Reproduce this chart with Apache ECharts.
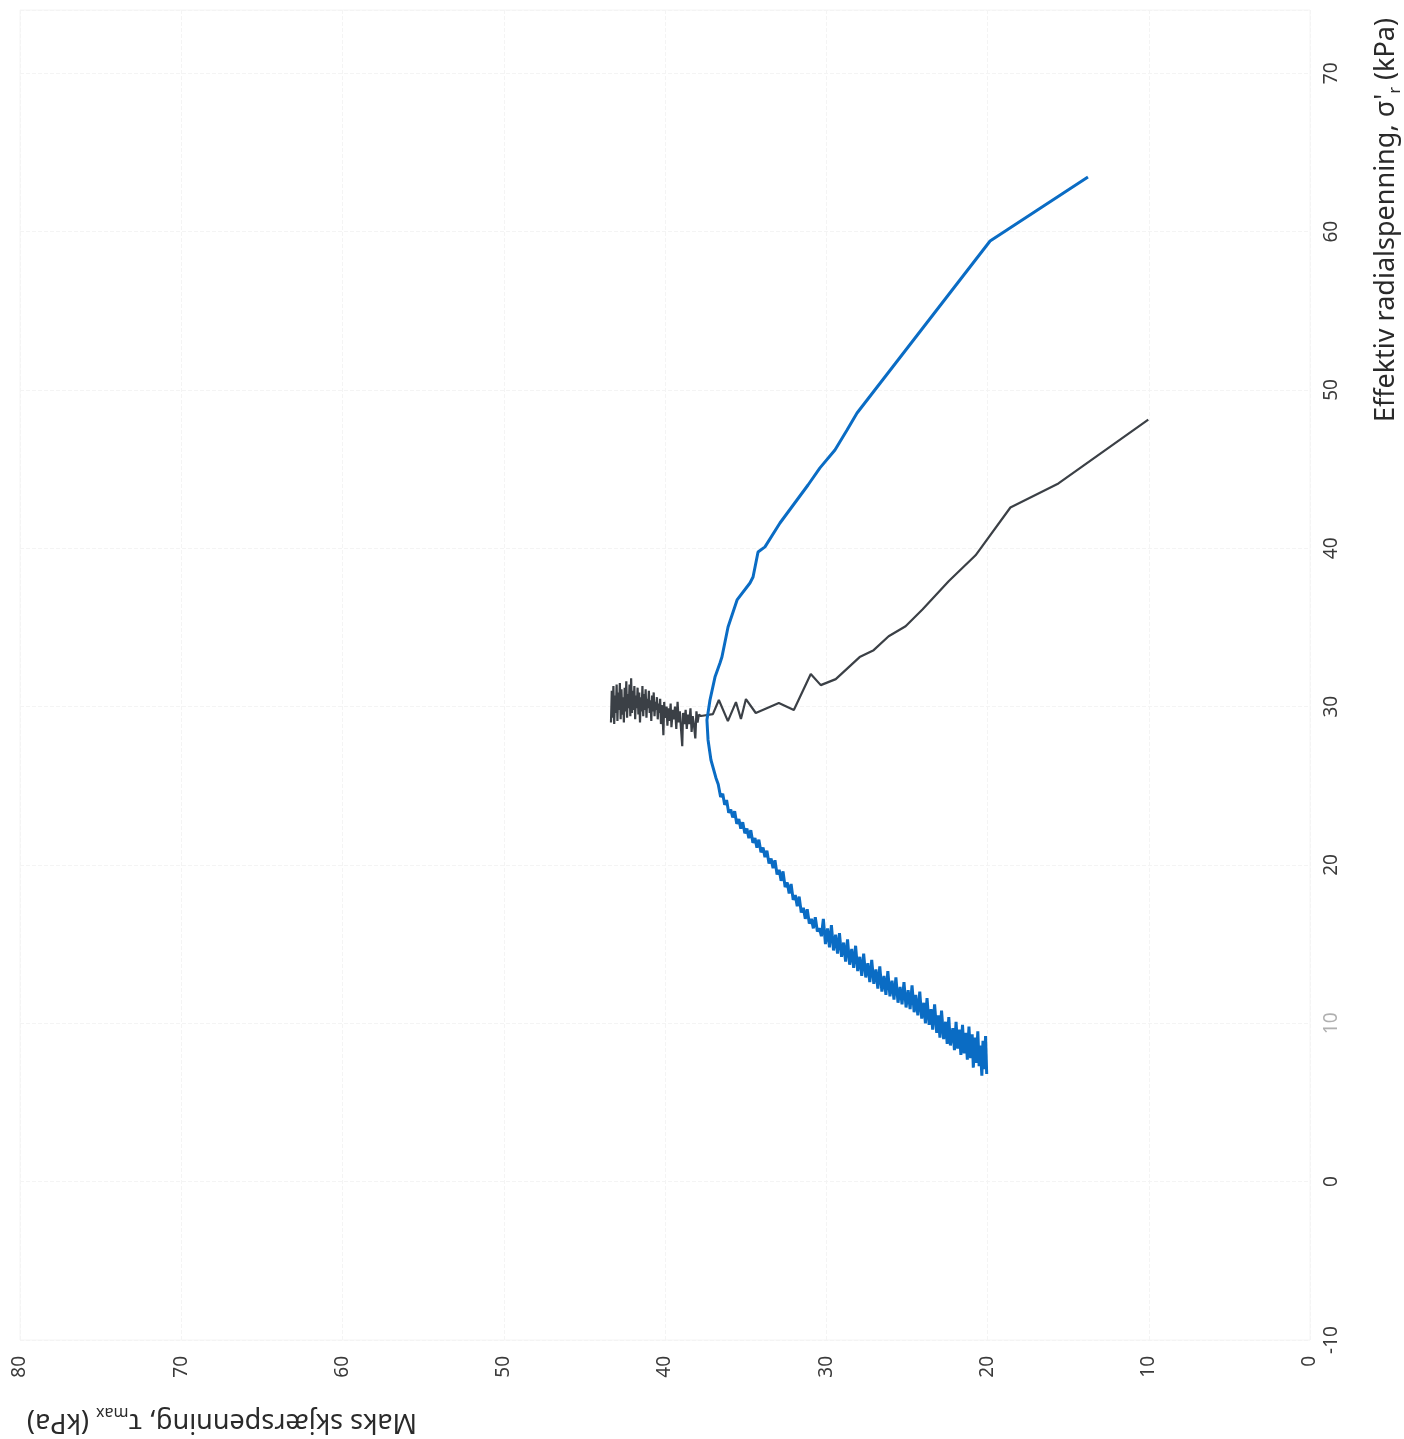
<!DOCTYPE html>
<html>
<head>
<meta charset="utf-8">
<script src="https://cdn.jsdelivr.net/npm/echarts@6/dist/echarts.min.js"></script>
<style>
  html, body { margin: 0; padding: 0; background: #fff; }
  #chart { width: 1404px; height: 1439px; }
</style>
</head>
<body>
<div id="chart"></div>
<script>
// tick values of the two axes
const tauTicks = [0, 10, 20, 30, 40, 50, 60, 70, 80]
const sigmaTicks = [-10, 0, 10, 20, 30, 40, 50, 60, 70]

// blue test: noisy start, then the smooth upper branch
const blueTau = [
  20.05, 20.12, 20.2, 20.28, 20.35, 20.45, 20.52, 20.6, 20.7, 20.78,
  20.88, 20.95, 21.05, 21.15, 21.25, 21.35, 21.45, 21.55, 21.65, 21.75,
  21.85, 21.95, 22.05, 22.15, 22.3, 22.4, 22.5, 22.6, 22.72, 22.85,
  22.95, 23.05, 23.15, 23.28, 23.4, 23.5, 23.62, 23.75, 23.85, 23.95,
  24.08, 24.2, 24.32, 24.45, 24.55, 24.68, 24.8, 24.92, 25.05, 25.18,
  25.3, 25.42, 25.55, 25.68, 25.8, 25.92, 26.05, 26.18, 26.3, 26.42,
  26.55, 26.68, 26.8, 26.92, 27.05, 27.18, 27.3, 27.42, 27.55, 27.68,
  27.8, 27.92, 28.05, 28.18, 28.3, 28.42, 28.55, 28.68, 28.8, 28.92,
  29.05, 29.18, 29.3, 29.42, 29.55, 29.68, 29.8, 29.92, 30.05, 30.18,
  30.3, 30.42, 30.55, 30.68, 30.8, 30.92, 31.05, 31.18, 31.3, 31.42,
  31.55, 31.68, 31.8, 31.92, 32.05, 32.18, 32.3, 32.42, 32.55, 32.68,
  32.8, 32.92, 33.05, 33.18, 33.3, 33.42, 33.55, 33.68, 33.8, 33.92,
  34.05, 34.18, 34.3, 34.42, 34.55, 34.68, 34.8, 34.92, 35.05, 35.18,
  35.3, 35.42, 35.55, 35.68, 35.8, 35.92, 36.05, 36.18, 36.3, 36.42,
  36.55, 36.7, 36.84,
  37.15, 37.33, 37.40, 37.21, 36.90, 36.59, 36.47, 36.09, 35.53, 34.73,
  34.54, 34.23, 33.80, 32.87, 31.13, 30.39, 29.46, 28.71, 28.09, 19.84,
  13.77
]
const blueSigma = [
  6.8, 9.2, 7.1, 8.9, 6.7, 8.6, 7.3, 9.5, 7.5, 9.1,
  7.2, 9.3, 7.8, 9.8, 7.7, 9.4, 8.1, 9.9, 8.0, 9.6,
  8.4, 10.1, 8.3, 9.7, 8.6, 10.4, 8.7, 10.1, 9.0, 10.8,
  9.1, 10.5, 9.4, 11.2, 9.6, 10.9, 9.9, 11.6, 10.0, 11.3,
  10.3, 12.0, 10.5, 11.8, 10.7, 12.4, 10.9, 12.1, 11.0, 12.6,
  11.2, 12.3, 11.3, 12.9, 11.5, 12.7, 11.7, 13.3, 11.8, 13.0,
  12.0, 13.6, 12.2, 13.4, 12.5, 14.0, 12.6, 13.8, 12.9, 14.4,
  13.0, 14.2, 13.3, 14.9, 13.5, 14.7, 13.7, 15.3, 13.9, 15.1,
  14.2, 15.7, 14.4, 15.6, 14.6, 16.2, 14.8, 16.0, 15.0, 16.6,
  15.5, 16.0, 15.8, 16.7, 16.0, 16.6, 16.3, 17.2, 16.6, 17.3,
  17.0, 18.0, 17.4, 18.1, 17.8, 18.8, 18.2, 18.9, 18.6, 19.6,
  19.0, 19.7, 19.4, 20.3, 19.8, 20.4, 20.1, 20.9, 20.5, 21.1,
  20.8, 21.6, 21.1, 21.7, 21.4, 22.2, 21.7, 22.3, 22.0, 22.7,
  22.3, 22.9, 22.6, 23.4, 23.0, 23.5, 23.3, 24.1, 23.8, 24.5,
  24.3, 25.1, 25.5,
  26.63, 27.90, 29.16, 30.42, 31.87, 32.76, 33.14, 35.03, 36.74, 37.81,
  38.19, 39.77, 40.09, 41.60, 44.00, 45.08, 46.21, 47.47, 48.55, 59.41,
  63.45
]

// grey test: dense noisy cluster, then the lower branch
const greyTau = [
  43.35, 43.3, 43.25, 43.2, 43.15, 43.1, 43.05, 43.0, 42.95, 42.9,
  42.85, 42.8, 42.75, 42.7, 42.65, 42.6, 42.55, 42.5, 42.45, 42.4,
  42.35, 42.3, 42.25, 42.2, 42.15, 42.1, 42.05, 42.0, 41.95, 41.9,
  41.85, 41.8, 41.75, 41.7, 41.65, 41.6, 41.55, 41.5, 41.45, 41.4,
  41.35, 41.3, 41.25, 41.2, 41.15, 41.1, 41.05, 41.0, 40.95, 40.9,
  40.85, 40.8, 40.75, 40.7, 40.65, 40.6, 40.55, 40.5, 40.45, 40.4,
  40.35, 40.3, 40.25, 40.2, 40.15, 40.1, 40.05, 40.0, 39.9, 39.85,
  39.8, 39.72, 39.65, 39.6, 39.52, 39.45, 39.38, 39.3, 39.22, 39.15,
  39.08, 39.0, 38.93, 38.88, 38.8, 38.72, 38.65, 38.58, 38.5, 38.42,
  38.35, 38.28, 38.2, 38.12, 38.05, 37.98, 37.9, 37.77,
  37.03, 36.66, 36.10, 35.60, 35.29, 34.98, 34.37, 32.94, 32.01, 30.96,
  30.34, 29.41, 27.93, 27.06, 26.13, 25.08, 24.02, 22.41, 20.74, 18.58,
  15.60, 10.03
]
const greySigma = [
  29.0, 31.0, 29.3, 31.3, 28.9, 30.7, 29.6, 31.4, 29.1, 30.9,
  29.8, 31.5, 29.2, 31.1, 29.5, 30.6, 29.0, 31.2, 29.7, 31.6,
  29.3, 30.8, 29.9, 31.4, 29.4, 31.8, 29.6, 31.0, 29.8, 31.3,
  29.2, 30.7, 29.9, 31.2, 29.5, 30.9, 29.0, 30.6, 29.7, 31.3,
  29.4, 30.8, 29.8, 31.1, 29.3, 30.5, 29.9, 31.0, 29.6, 30.4,
  29.1, 30.7, 29.7, 30.9, 29.4, 30.3, 29.8, 30.6, 29.2, 30.2,
  29.6, 30.5, 28.9, 30.1, 29.5, 28.2, 30.3, 29.3, 30.0, 28.8,
  29.9, 29.1, 30.2, 28.7, 29.8, 29.2, 30.0, 28.6, 30.3, 29.0,
  29.7, 28.5, 27.5, 29.6, 28.9, 29.8, 28.6, 29.5, 28.9, 29.9,
  28.4, 29.4, 28.8, 28.0, 29.7, 29.0, 29.5, 29.41,
  29.53, 30.42, 29.09, 30.29, 29.22, 30.48, 29.60, 30.23, 29.79, 32.06,
  31.36, 31.74, 33.13, 33.57, 34.45, 35.08, 36.15, 37.92, 39.56, 42.58,
  44.10, 48.13
]

const zip = (a, b) => a.map((v, i) => [v, b[i]])

const fontFamily = '"Noto Sans", "DejaVu Sans", sans-serif'

let myChart = echarts.init(document.getElementById('chart'))

// subscript style shared by both axis titles
const subStyle = { fontSize: 16, lineHeight: 34, verticalAlign: 'bottom', fontFamily: fontFamily, fill: '#2a2a2a' }

let option = {
  animation: false,
  backgroundColor: '#fff',
  grid: {
    left: 20,
    right: 94,
    top: 10,
    bottom: 99,
    show: true,
    borderColor: '#f4f4f4',
    borderWidth: 1
  },
  // horizontal axis: max shear stress, 0 on the right (page is turned)
  xAxis: {
    type: 'value',
    inverse: true,
    min: tauTicks[0],
    max: tauTicks[tauTicks.length - 1],
    interval: 10,
    axisLine: { show: false },
    axisTick: { show: false },
    axisLabel: {
      rotate: 90,
      margin: 16,
      fontSize: 19,
      color: '#3a3a3a',
      fontFamily: fontFamily
    },
    splitLine: { lineStyle: { color: '#f4f4f4', type: 'dashed' } }
  },
  // vertical axis: effective radial stress, on the right side
  yAxis: {
    type: 'value',
    position: 'right',
    min: sigmaTicks[0],
    max: 74,
    interval: 10,
    axisLine: { show: false },
    axisTick: { show: false },
    axisLabel: {
      rotate: 90,
      margin: 12,
      fontSize: 19,
      color: '#3a3a3a',
      fontFamily: fontFamily,
      showMaxLabel: false,
      formatter: function(v) {
        // the "10" is faded in the scan
        return v === 10 ? '{g|10}' : String(v)
      },
      rich: { g: { color: '#b0b0b0', fontSize: 19, fontFamily: fontFamily } }
    },
    splitLine: { lineStyle: { color: '#f4f4f4', type: 'dashed' } }
  },
  graphic: [
    {
      type: 'text',
      x: 1386,
      y: 220,
      rotation: Math.PI / 2,
      style: {
        text: "Effektiv radialspenning, σ'{sub|r} (kPa)",
        align: 'center',
        verticalAlign: 'middle',
        fontSize: 27,
        lineHeight: 34,
        fontFamily: fontFamily,
        fill: '#2a2a2a',
        rich: { sub: subStyle }
      }
    },
    {
      type: 'text',
      x: 222,
      y: 1422,
      rotation: Math.PI,
      style: {
        text: 'Maks skjærspenning, τ{sub|max} (kPa)',
        align: 'center',
        verticalAlign: 'middle',
        fontSize: 27,
        lineHeight: 34,
        fontFamily: fontFamily,
        fill: '#2a2a2a',
        rich: { sub: subStyle }
      }
    }
  ],
  series: [
    {
      name: 'blue',
      type: 'line',
      data: zip(blueTau, blueSigma),
      showSymbol: false,
      lineStyle: { color: '#0a6cc4', width: 3 },
      z: 3
    },
    {
      name: 'grey',
      type: 'line',
      data: zip(greyTau, greySigma),
      showSymbol: false,
      lineStyle: { color: '#3b4046', width: 2.2 },
      z: 2
    }
  ]
}

myChart.setOption(option)
</script>
</body>
</html>
